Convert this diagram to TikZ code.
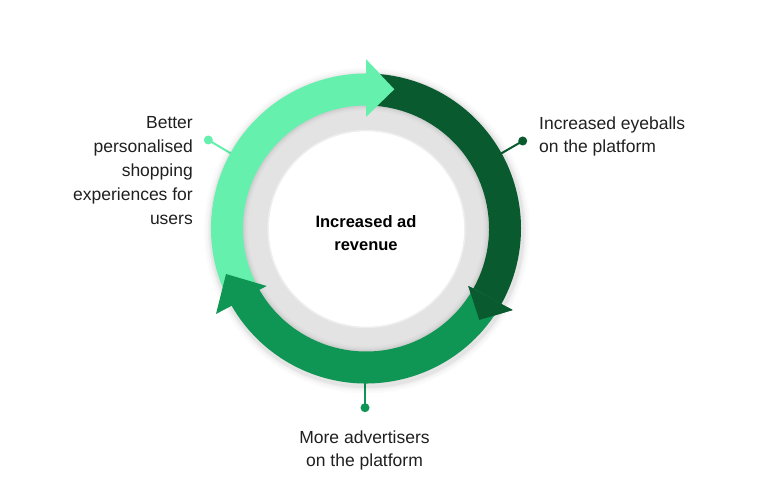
\documentclass[tikz,border=0pt]{standalone}
\usepackage{fontspec}
\setmainfont{Liberation Sans}
\usetikzlibrary{calc}
\definecolor{lightg}{HTML}{66F0AE}
\definecolor{darkg}{HTML}{0A5A30}
\definecolor{midg}{HTML}{109654}
\definecolor{ringgrey}{HTML}{E3E3E3}
\definecolor{txt}{HTML}{202020}
\begin{document}
\begin{tikzpicture}[x=1pt,y=1pt,
  lbl/.style={inner sep=0pt, text=txt, font=\fontsize{17.5}{23}\selectfont},
  dotnode/.style={circle, fill=#1, minimum size=9pt, inner sep=0pt},
  conn/.style={draw=#1, line width=2pt}]
\useasboundingbox (0,0) rectangle (757,498);
\fill[white] (0,0) rectangle (757,498);
\coordinate (C) at (366,269.5);
\def\Ro{155}\def\Ri{123}
% connectors
\node[dotnode=lightg] (dl) at (208.3,358) {};
\node[dotnode=darkg] (dr) at (522.7,357) {};
\node[dotnode=midg] (db) at (365,90.3) {};
\coordinate (el) at ($(C)+(151:150pt)$);
\coordinate (er) at ($(C)+(29:150pt)$);
\coordinate (eb) at (365,125);
\draw[conn=lightg] (dl.center) -- (el);
\draw[conn=darkg] (dr.center) -- (er);
\draw[conn=midg] (db.center) -- (eb);
% soft shadow of the ring
\foreach \r/\op in {163/0.015,161/0.02,159/0.03,157.5/0.04}{
  \fill[black,opacity=\op] ($(C)+(1,-2)$) circle (\r pt);
}
% grey ring and white disk
\fill[ringgrey] (C) circle (128pt);
\foreach \w/\op in {10/0.02,6/0.03,3/0.04}{
  \draw[black,opacity=\op,line width=\w pt] (C) circle (\Ri pt);
}
\fill[white] (366.5,269) circle (98pt);
\draw[ringgrey!60,line width=1.5pt] (366.5,269) circle (98.5pt);
% arrows (band + head)
\fill[lightg] ($(C)+(209.9:\Ro pt)$) arc[start angle=209.9,end angle=90,radius=\Ro pt]
  -- (366,438.7) -- (394.3,408.7) -- (366,381.3)
  -- ($(C)+(90:\Ri pt)$) arc[start angle=90,end angle=209.9,radius=\Ri pt] -- cycle;
\fill[darkg] ($(C)+(90:\Ro pt)$) arc[start angle=90,end angle=-29.2,radius=\Ro pt]
  -- (512.7,188) -- (479.3,178) -- (468.3,212)
  -- ($(C)+(-29.2:\Ri pt)$) arc[start angle=-29.2,end angle=90,radius=\Ri pt] -- cycle;
\fill[midg] ($(C)+(-29.2:\Ro pt)$) arc[start angle=-29.2,end angle=-150.1,radius=\Ro pt]
  -- (216,184) -- (226,224) -- (266.7,212)
  -- ($(C)+(209.9:\Ri pt)$) arc[start angle=-150.1,end angle=-29.2,radius=\Ri pt] -- cycle;
% heads again on top (cyclic overlap)
\fill[lightg] (366,438.7) -- (394.3,408.7) -- (366,381.3) -- cycle;
\fill[darkg] (512.7,188) -- (479.3,178) -- (468.3,212) -- cycle;
% labels
\node[lbl, align=right, anchor=north east, font=\fontsize{17.5}{24.2}\selectfont] (tl) at (193,382.2)
  {Better\\personalised\\shopping\\experiences for\\users};
\node[lbl, align=left, anchor=north west] (tr) at (539,381.5) {Increased eyeballs\\on the platform};
\node[lbl, align=center, anchor=north] (tb) at (364.5,67.2) {More advertisers\\on the platform};
\node[lbl, align=center, anchor=north, font=\fontsize{16.5}{23.3}\selectfont\bfseries, text=black] (tc) at (366,283.1) {Increased ad\\revenue};
\end{tikzpicture}
\end{document}
